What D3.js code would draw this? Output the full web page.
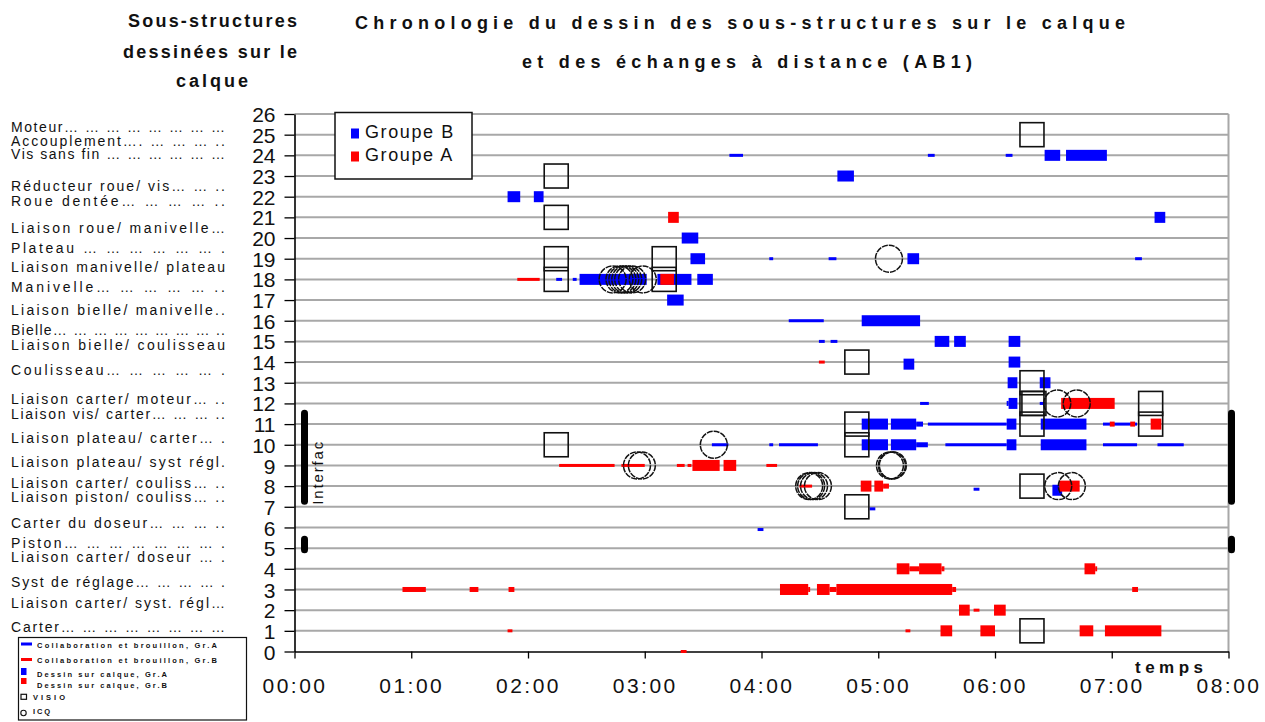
<!DOCTYPE html>
<html>
<head>
<meta charset="utf-8">
<title>Chronologie du dessin des sous-structures (AB1)</title>
<script src="https://cdn.jsdelivr.net/npm/d3@7"></script>
<style>
  html, body { margin: 0; padding: 0; background: #ffffff; }
  svg { display: block; }
  text { font-family: "Liberation Sans", Arial, Helvetica, sans-serif; fill: #111; }
</style>
</head>
<body>
<svg id="chart" width="1265" height="722"></svg>
<script>
// ---- Sub-structures listed beside the time line (label text + level on the value axis)
const categories = [
  "Moteur… … … … … … … …",
  "Accouplement…. … … … ..",
  "Vis sans fin … … … … … …",
  "Réducteur roue/ vis… … ..",
  "Roue dentée… … … … ..",
  "Liaison roue/ manivelle…",
  "Plateau … … … … … … .",
  "Liaison manivelle/ plateau",
  "Manivelle… … … … … ..",
  "Liaison bielle/ manivelle..",
  "Bielle… … … … … … … … ..",
  "Liaison bielle/ coulisseau",
  "Coulisseau… … … … … .",
  "Liaison carter/ moteur… ..",
  "Liaison vis/ carter… … … ..",
  "Liaison plateau/ carter… .",
  "Liaison plateau/ syst régl.",
  "Liaison carter/ couliss… ..",
  "Liaison piston/ couliss… ..",
  "Carter du doseur… … … ..",
  "Piston… … … … … … … .",
  "Liaison carter/ doseur … .",
  "Syst de réglage… … … … .",
  "Liaison carter/ syst. régl…",
  "Carter… … … … … … … …"
];
const categoryLevels = [25.15, 24.47, 23.81, 22.26, 21.55, 20.23, 19.29, 18.37, 17.41, 16.28,
  15.31, 14.59, 13.38, 11.95, 11.26, 10.07, 8.94, 7.93, 7.23, 5.96, 4.99, 4.34, 3.13, 2.09, 0.96];

// ---- Axis ticks
const yTicks = d3.range(0, 27);
const hourMinutes = [0, 60, 120, 180, 240, 300, 360, 420, 480];
const hourLabels = ["00:00", "01:00", "02:00", "03:00", "04:00", "05:00", "06:00", "07:00", "08:00"];

// ---- Segments: [level, start (min), end (min)]
// Collaboration et brouillon (thin strokes)
const brouillonGrA = [
  [18, 134.5, 137.5], [18, 143, 145], [24, 223.5, 230.5], [24, 325.5, 329],
  [19, 244, 246], [19, 274.5, 278.5], [16, 254, 272], [15, 269.5, 272.5], [15, 275.5, 279],
  [12, 321.5, 326], [11, 325.5, 366], [10, 244, 246], [10, 249, 269], [10, 334.5, 366],
  [10, 214.5, 223], [24, 365.5, 369], [19, 432, 435.5], [12, 383, 385.5],
  [11, 415.5, 433], [10, 415.5, 433], [10, 443.5, 457], [7.85, 349, 352],
  [6.9, 295.5, 298.5], [5.9, 238, 241]
];
const brouillonGrB = [
  [18, 114.5, 126], [9, 136, 164.5], [9, 168, 180], [9, 196.5, 200.5], [9, 202, 204],
  [9, 242.5, 248], [8, 259.5, 266], [14, 269.5, 272.5], [1, 314, 316.5], [2, 349, 352],
  [1, 109.5, 112], [0, 198.5, 201.5]
];
// Partial drawing (tapering between stroke and block)
const partielGrA = [
  [11, 319.5, 323], [10, 319.5, 325.5], [12, 366, 367]
];
const partielGrB = [
  [8, 302.5, 305.5], [4, 316, 321], [4, 332.5, 334], [3, 264, 265], [3, 275, 278.5],
  [3, 338, 340], [4, 411.5, 412.5], [3, 55.5, 67.5], [3, 90, 94.5], [3, 110, 113],
  [3, 430.5, 433.5], [11, 419, 421.5], [11, 429.5, 432]
];
// Dessin sur calque (blocks)
const calqueGrA = [
  [22, 109.5, 116], [22, 123, 128], [18, 146.5, 181], [18, 186.5, 204], [18, 207, 215],
  [19, 203.5, 211], [20, 199, 207.5], [17, 191.5, 200], [23, 279, 287.5], [19, 315, 321],
  [16, 291.5, 321.5], [15, 329, 336.5], [15, 339, 345], [13.9, 313, 318.5],
  [11, 291.5, 305], [11, 306.5, 319.5], [10, 291.5, 305], [10, 306.5, 319.5],
  [24, 385.5, 393.5], [24, 396.5, 417.5], [21, 442, 447.5], [15, 367, 373], [14, 367, 373],
  [13, 366.5, 371.5], [13, 383, 388.5], [12, 367, 371.5], [11, 366, 371], [11, 383.5, 407],
  [10, 366, 371], [10, 383.5, 407], [7.8, 389.5, 394.5]
];
const calqueGrB = [
  [18, 188, 195], [21, 192, 197.5], [9, 204.5, 218.5], [9, 220.5, 227], [8, 291, 296.5],
  [8, 298, 302.5], [4, 309.5, 316], [4, 321, 332.5], [3, 249.5, 264], [3, 268.5, 275],
  [3, 278.5, 338], [2, 341.5, 347], [2, 359.5, 365.5], [1, 332, 338], [1, 352.5, 360],
  [12, 394, 421.5], [11, 440, 445.5], [8, 393, 403.5], [4, 406, 411.5], [1, 403.5, 410.5],
  [1, 416.5, 445.5]
];
// Remote exchanges: [level, time (min)]
const visio = [
  [23, 134.5], [21, 134.5], [19, 134.5], [18, 134.5], [10, 134.5],
  [19, 190], [18, 190],
  [14, 289], [11, 289], [10, 289], [7, 289],
  [25, 379], [13, 379], [12, 379], [12, 380], [11, 379], [8, 379], [1, 379],
  [12, 440], [11, 440]
];
const icq = [
  [18, 163.5], [18, 167], [18, 168.5], [18, 170], [18, 171.5], [18, 173.5], [18, 179],
  [9, 176], [9, 178.5], [10, 215.5], [19, 305.5],
  [8, 264.5], [8, 265.5], [8, 267], [8, 269],
  [9, 306], [9, 307], [9, 307.5],
  [12, 392], [12, 402], [8, 392.5], [8, 399.5]
];
// Interface brackets: [from level, to level]
const interfaces = [[7.1, 11.7], [4.75, 5.6]];

const groupLegend = ["Groupe B", "Groupe A"];
const markLegend = [
  "Collaboration et brouillon, Gr.A",
  "Collaboration et brouillon, Gr.B",
  "Dessin sur calque, Gr.A",
  "Dessin sur calque, Gr.B",
  "VISIO",
  "ICQ"
];

// ---- Drawing
const BLUE = "#0000ff", RED = "#ff0000";
const svg = d3.select("#chart");
const x = d3.scaleLinear().domain([0, 480]).range([294.5, 1228.5]);
const y = d3.scaleLinear().domain([0, 26]).range([651.5, 114]);

// horizontal grid + plot frame
const grid = svg.append("g");
grid.selectAll("line").data(yTicks.filter(v => v > 0)).join("line")
  .attr("x1", x(0)).attr("x2", x(480))
  .attr("y1", d => y(d)).attr("y2", d => y(d))
  .attr("stroke", "#a8a8a8").attr("stroke-width", 2);
grid.append("line")
  .attr("x1", x(480)).attr("x2", x(480)).attr("y1", y(26)).attr("y2", y(0))
  .attr("stroke", "#a8a8a8").attr("stroke-width", 2);

// axes
const yAxis = svg.append("g").attr("transform", `translate(${x(0)},0)`)
  .call(d3.axisLeft(y).tickValues(yTicks).tickSize(10).tickSizeOuter(0).tickPadding(9));
const xAxis = svg.append("g").attr("transform", `translate(0,${y(0)})`)
  .call(d3.axisBottom(x).tickValues(hourMinutes).tickFormat((d, i) => hourLabels[i])
    .tickSize(7).tickSizeOuter(0));
[yAxis, xAxis].forEach(a => {
  a.select(".domain").attr("stroke", "#000").attr("stroke-width", 1.6);
  a.selectAll(".tick line").attr("stroke", "#000").attr("stroke-width", 1.3);
  a.selectAll("text").attr("font-family", "\"Liberation Sans\", Arial, sans-serif")
    .attr("font-size", 21).attr("fill", "#111");
});
yAxis.selectAll(".tick text").attr("dy", "0.36em");
xAxis.selectAll(".tick text").attr("dy", null).attr("y", 41.5).attr("letter-spacing", 2.5);

// segments
const marks = svg.append("g");
function segments(data, color, h) {
  marks.append("g").selectAll("rect").data(data).join("rect")
    .attr("x", d => x(d[1]))
    .attr("width", d => Math.max(1.5, x(d[2]) - x(d[1])))
    .attr("y", d => y(d[0]) - h / 2)
    .attr("height", h)
    .attr("fill", color);
}
segments(brouillonGrA, BLUE, 3);
segments(brouillonGrB, RED, 3);
segments(partielGrA, BLUE, 5);
segments(partielGrB, RED, 5);
segments(calqueGrA, BLUE, 11);
segments(calqueGrB, RED, 11);

// VISIO squares
marks.append("g").selectAll("rect").data(visio).join("rect")
  .attr("x", d => x(d[1]) - 12).attr("y", d => y(d[0]) - 12)
  .attr("width", 24).attr("height", 24)
  .attr("fill", "none").attr("stroke", "#111").attr("stroke-width", 1.6);

// ICQ circles
marks.append("g").selectAll("circle").data(icq).join("circle")
  .attr("cx", d => x(d[1])).attr("cy", d => y(d[0])).attr("r", 13.5)
  .attr("fill", "none").attr("stroke", "#111").attr("stroke-width", 1.5)
  .attr("stroke-dasharray", "6 1");

// interface brackets at both edges
const br = svg.append("g");
[x(0) + 10, x(480) + 3].forEach(bx => {
  br.selectAll(null).data(interfaces).join("line")
    .attr("x1", bx).attr("x2", bx)
    .attr("y1", d => y(d[1]) + 3.5).attr("y2", d => y(d[0]) - 3.5)
    .attr("stroke", "#000").attr("stroke-width", 7).attr("stroke-linecap", "round");
});
br.append("text")
  .attr("transform", `translate(323,${y(interfaces[0][0])}) rotate(-90)`)
  .attr("font-size", 15).attr("textLength", 63).attr("lengthAdjust", "spacing")
  .text("Interfac");

// category labels
svg.append("g").selectAll("text").data(categories).join("text")
  .attr("x", 11).attr("y", (d, i) => y(categoryLevels[i]))
  .attr("font-size", 14).attr("textLength", 214).attr("lengthAdjust", "spacing")
  .text(d => d);

// headings
const head = svg.append("g").attr("font-weight", "bold");
[["Sous-structures", 128, 27, 169], ["dessinées sur le", 123, 57.5, 174], ["calque", 176, 87, 72]]
  .forEach(([t, tx, ty, len]) => head.append("text").attr("x", tx).attr("y", ty)
    .attr("font-size", 18).attr("font-weight", "bold")
    .attr("textLength", len).attr("lengthAdjust", "spacing").text(t));
[["Chronologie du dessin des sous-structures sur le calque", 355, 29, 770],
 ["et des échanges à distance (AB1)", 522, 68, 450]]
  .forEach(([t, tx, ty, len]) => head.append("text").attr("x", tx).attr("y", ty)
    .attr("font-size", 18).attr("font-weight", "bold")
    .attr("textLength", len).attr("lengthAdjust", "spacing").text(t));
head.append("text").attr("x", 1135).attr("y", 673).attr("font-size", 17)
  .attr("font-weight", "bold").attr("textLength", 68).attr("lengthAdjust", "spacing")
  .text("temps");

// group legend
const lg = svg.append("g");
lg.append("rect").attr("x", 335).attr("y", 112.5).attr("width", 137).attr("height", 66.5)
  .attr("fill", "#fff").attr("stroke", "#111").attr("stroke-width", 1.5);
groupLegend.forEach((t, i) => {
  lg.append("rect").attr("x", 351).attr("y", 128.5 + i * 23).attr("width", 8).attr("height", 10)
    .attr("fill", i === 0 ? BLUE : RED);
  lg.append("text").attr("x", 365).attr("y", 137.5 + i * 23).attr("font-size", 18)
    .attr("letter-spacing", 1.6).text(t);
});

// mark legend
const ml = svg.append("g");
ml.append("rect").attr("x", 18.5).attr("y", 637.5).attr("width", 228).attr("height", 82.5)
  .attr("fill", "#fff").attr("stroke", "#111").attr("stroke-width", 1.2);
const mlY = [644, 659.5, 671.5, 681, 696.8, 713];
const mlText = [647.5, 662.5, 676.5, 688, 700, 713.5];
const mlLen = [180, 180, 130, 130, 32, 17];
ml.append("rect").attr("x", 21).attr("y", mlY[0] - 1.5).attr("width", 11).attr("height", 3).attr("fill", BLUE);
ml.append("rect").attr("x", 21).attr("y", mlY[1] - 1.5).attr("width", 11).attr("height", 3).attr("fill", RED);
ml.append("rect").attr("x", 21).attr("y", mlY[2] - 3.5).attr("width", 5.5).attr("height", 7).attr("fill", BLUE);
ml.append("rect").attr("x", 21).attr("y", mlY[3] - 3).attr("width", 5.5).attr("height", 6).attr("fill", RED);
ml.append("rect").attr("x", 21).attr("y", mlY[4] - 2.5).attr("width", 5.5).attr("height", 5)
  .attr("fill", "none").attr("stroke", "#111").attr("stroke-width", 1.2);
ml.append("circle").attr("cx", 23.5).attr("cy", mlY[5]).attr("r", 2.7)
  .attr("fill", "none").attr("stroke", "#111").attr("stroke-width", 1.1);
markLegend.forEach((t, i) => {
  ml.append("text").attr("x", i < 4 ? 37 : 33).attr("y", mlText[i])
    .attr("font-size", 7.5).attr("font-weight", "bold")
    .attr("textLength", mlLen[i]).attr("lengthAdjust", "spacing").text(t);
});
</script>
</body>
</html>
